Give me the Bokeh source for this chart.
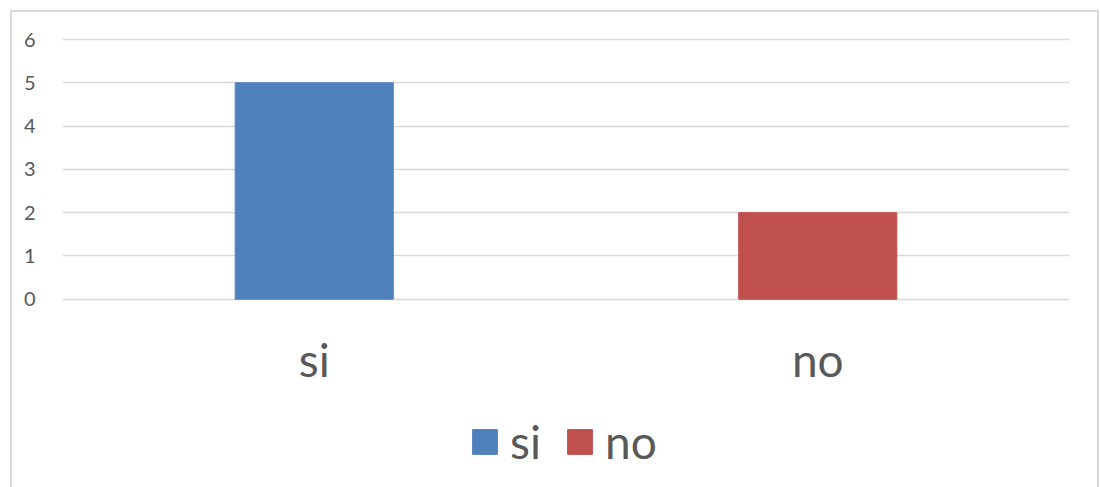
from bokeh.plotting import figure
from bokeh.models import ColumnDataSource, Legend, LegendItem, FixedTicker, Range1d, FactorRange
from bokeh.embed import file_html
from bokeh.resources import INLINE

categories = ["si", "no"]
values = [5, 2]
colors = ["#4F81BD", "#C0504D"]
y_ticks = [0, 1, 2, 3, 4, 5, 6]

src = ColumnDataSource(dict(cat=categories, val=values, color=colors))

# frame spans from just above 6 down to the bottom of the canvas (43 px per unit)
p = figure(x_range=FactorRange(*categories, range_padding=0), y_range=Range1d(-4.395, 6.0465),
           width=1089, height=477, output_backend="svg", toolbar_location=None,
           min_border_left=50, min_border_right=32, min_border_top=25, min_border_bottom=0)
p.styles = {"border": "2px solid #D9D9D9", "border-bottom": "none", "box-sizing": "border-box",
            "margin-left": "10px", "margin-top": "10px"}
p.outline_line_color = None
p.background_fill_color = "white"
p.border_fill_color = "white"

r = p.vbar(x="cat", top="val", width=0.314, color="color", source=src)

p.xgrid.grid_line_color = None
p.ygrid.grid_line_color = "#D9D9D9"
p.ygrid.grid_line_width = 1.5
p.yaxis.ticker = FixedTicker(ticks=y_ticks)
for ax in (p.xaxis, p.yaxis):
    ax.axis_line_color = None
    ax.major_tick_line_color = None
    ax.minor_tick_line_color = None
    ax.major_label_text_color = "#595959"
    ax.major_label_text_font = "Lato"
p.yaxis.major_label_text_font_size = "20px"
p.yaxis.major_label_standoff = 21
p.xaxis.fixed_location = 0
p.xaxis.major_label_text_font_size = "46px"
p.xaxis.major_label_standoff = 27

legend = Legend(items=[LegendItem(label=c, renderers=[r], index=i) for i, c in enumerate(categories)],
                orientation="horizontal", location=(407, 20),
                label_text_font="Lato", label_text_font_size="46px", label_text_color="#595959",
                glyph_width=31, glyph_height=31, label_standoff=10, spacing=23,
                margin=0, padding=0, border_line_color=None, background_fill_alpha=0)
p.add_layout(legend, "center")

open("out.html", "w").write(file_html(p, INLINE))
